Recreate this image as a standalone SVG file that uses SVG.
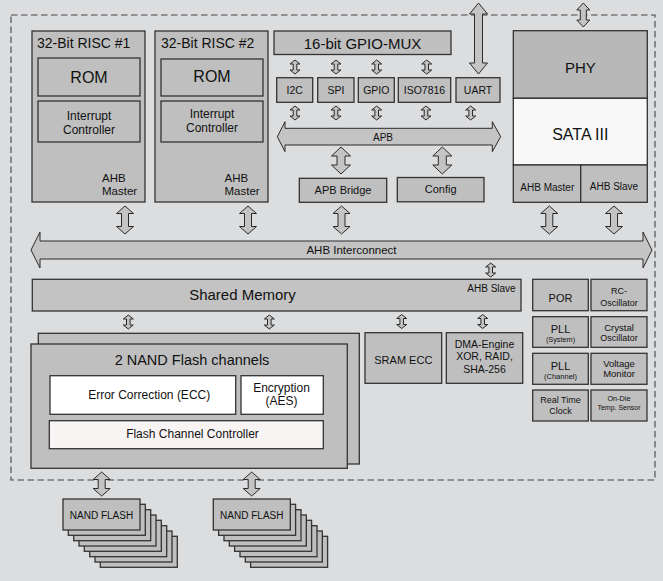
<svg xmlns="http://www.w3.org/2000/svg" width="663" height="581" viewBox="0 0 663 581">
<style>
text{font-family:"Liberation Sans",Arial,sans-serif;fill:#111}
.bx{fill:#bfbfbf;stroke:#333;stroke-width:1.3}
.wb{fill:#ffffff;stroke:#333;stroke-width:1.3}
.pk{fill:#f8f4f4;stroke:#333;stroke-width:1.3}
.arr{fill:#c4c4c4;stroke:#2a2a2a;stroke-width:1}
.c{text-anchor:middle}
.e{text-anchor:end}
</style>
<rect width="663" height="581" fill="#dcdddf"/>
<rect x="11" y="15" width="644" height="465" fill="none" stroke="#444" stroke-width="1.1" stroke-dasharray="6.5 3.5"/>

<g id="risc1">
<rect class="bx" x="32" y="31" width="113" height="171"/>
<text x="37" y="48" font-size="14">32-Bit RISC #1</text>
<rect class="bx" x="38" y="58" width="102" height="38"/>
<text class="c" x="89" y="83" font-size="16">ROM</text>
<rect class="bx" x="38" y="101" width="102" height="41"/>
<text class="c" x="89" y="120" font-size="12">Interrupt</text>
<text class="c" x="89" y="133.5" font-size="12">Controller</text>
<text x="102" y="181.5" font-size="11.5">AHB</text>
<text x="102" y="195" font-size="11.5">Master</text>
</g>

<g id="risc2">
<rect class="bx" x="155" y="31" width="113" height="171"/>
<text x="161" y="48" font-size="14">32-Bit RISC #2</text>
<rect class="bx" x="161" y="59" width="102" height="37"/>
<text class="c" x="212" y="82" font-size="16">ROM</text>
<rect class="bx" x="161" y="101" width="102" height="41"/>
<text class="c" x="212" y="118" font-size="12">Interrupt</text>
<text class="c" x="212" y="131.5" font-size="12">Controller</text>
<text x="224.5" y="181.5" font-size="11.5">AHB</text>
<text x="224.5" y="195" font-size="11.5">Master</text>
</g>

<g id="gpiomux">
<rect class="bx" x="274" y="31" width="177" height="23.5"/>
<text class="c" x="362.5" y="49" font-size="15">16-bit GPIO-MUX</text>
</g>
<g id="i2c"><rect class="bx" x="276.7" y="77.7" width="36" height="24.6"/><text class="c" x="294.7" y="93.5" font-size="10.5">I2C</text></g>
<g id="spi"><rect class="bx" x="317.7" y="77.7" width="36.3" height="24.6"/><text class="c" x="336" y="93.5" font-size="10.5">SPI</text></g>
<g id="gpio"><rect class="bx" x="358.3" y="77.7" width="36" height="24.6"/><text class="c" x="376.3" y="94" font-size="10.5">GPIO</text></g>
<g id="iso7816"><rect class="bx" x="398.3" y="77.7" width="52.4" height="24.6"/><text class="c" x="424.5" y="93.5" font-size="10.5">ISO7816</text></g>
<g id="uart"><rect class="bx" x="456" y="77.7" width="44" height="24.6"/><text class="c" x="478" y="93.5" font-size="10.5">UART</text></g>
<g id="apbbridge"><rect class="bx" x="299.3" y="178.3" width="87.4" height="24"/><text class="c" x="343" y="193.8" font-size="11">APB Bridge</text></g>
<g id="config"><rect class="bx" x="397.3" y="177.5" width="86.7" height="24.3"/><text class="c" x="440.7" y="193.3" font-size="11">Config</text></g>

<g id="sata">
<rect x="513.3" y="30.7" width="134" height="67.6" fill="#b8b8b8" stroke="#333" stroke-width="1.3"/>
<text class="c" x="580.3" y="73.3" font-size="15">PHY</text>
<rect x="513.3" y="98.3" width="134" height="66.7" fill="#f8f8f8" stroke="#333" stroke-width="1.3"/>
<text class="c" x="580.3" y="140" font-size="16">SATA III</text>
<rect class="bx" x="513.3" y="165" width="67.4" height="37.3"/>
<rect class="bx" x="580.7" y="165" width="66.6" height="37.3"/>
<text class="c" x="547.3" y="190.7" font-size="10">AHB Master</text>
<text class="c" x="614" y="190.2" font-size="10">AHB Slave</text>
</g>

<g id="sharedmem">
<rect class="bx" x="32.3" y="279.3" width="488.7" height="31.7" style="fill:#c3c3c3"/>
<text class="c" x="242.5" y="299.5" font-size="15">Shared Memory</text>
<text class="e" x="515.7" y="292.3" font-size="10">AHB Slave</text>
</g>

<g id="nandchannels">
<rect class="bx" x="38.3" y="333.3" width="321" height="130.7"/>
<rect class="bx" x="31" y="344" width="316.3" height="124.3"/>
<text class="c" x="192" y="365" font-size="14.5">2 NAND Flash channels</text>
<rect class="wb" x="50" y="375.7" width="185.7" height="38.6"/>
<text class="c" x="149.2" y="399" font-size="12">Error Correction (ECC)</text>
<rect class="wb" x="241" y="375.7" width="82.3" height="38.6"/>
<text class="c" x="281.5" y="391.7" font-size="12">Encryption</text>
<text class="c" x="281.5" y="405" font-size="12">(AES)</text>
<rect class="pk" x="49.3" y="420.7" width="274" height="28"/>
<text class="c" x="192.5" y="438.3" font-size="12">Flash Channel Controller</text>
</g>

<g id="sramecc"><rect class="bx" x="365" y="332.7" width="76.7" height="50.6"/><text class="c" x="403.3" y="364" font-size="11">SRAM ECC</text></g>
<g id="dma"><rect class="bx" x="446.3" y="332.7" width="76.4" height="50.6"/>
<text class="c" x="484.5" y="347.7" font-size="10.5">DMA-Engine</text>
<text class="c" x="484.5" y="360" font-size="10.5">XOR, RAID,</text>
<text class="c" x="484.5" y="372.7" font-size="10.5">SHA-256</text></g>

<g id="por"><rect class="bx" x="532.7" y="279.3" width="55.6" height="31.4"/><text class="c" x="560.5" y="301.7" font-size="11">POR</text></g>
<g id="rcosc"><rect class="bx" x="591" y="279.3" width="56" height="31.4"/><text class="c" x="619" y="294" font-size="9">RC-</text><text class="c" x="619" y="305.7" font-size="9">Oscillator</text></g>
<g id="pllsys"><rect class="bx" x="532.7" y="316.7" width="55.6" height="30.6"/><text class="c" x="560.5" y="333.3" font-size="11">PLL</text><text class="c" x="560.5" y="342" font-size="7.3">(System)</text></g>
<g id="crystal"><rect class="bx" x="591" y="316.7" width="56" height="30.6"/><text class="c" x="619" y="330.7" font-size="9.5">Crystal</text><text class="c" x="619" y="340.7" font-size="9">Oscillator</text></g>
<g id="pllch"><rect class="bx" x="532.7" y="353.3" width="55.6" height="31"/><text class="c" x="560.5" y="370" font-size="11">PLL</text><text class="c" x="560.5" y="379" font-size="7.5">(Channel)</text></g>
<g id="voltage"><rect class="bx" x="591" y="353.3" width="56" height="31"/><text class="c" x="619" y="366.7" font-size="9.5">Voltage</text><text class="c" x="619" y="377.3" font-size="9.5">Monitor</text></g>
<g id="rtc"><rect class="bx" x="532.7" y="390" width="55.6" height="31"/><text class="c" x="560.5" y="403.3" font-size="9">Real Time</text><text class="c" x="560.5" y="414" font-size="9">Clock</text></g>
<g id="tempsensor"><rect class="bx" x="591" y="390" width="56" height="31"/><text class="c" x="619" y="400.7" font-size="7.3">On-Die</text><text class="c" x="619" y="410" font-size="7">Temp. Sensor</text></g>

<g id="nandflash1">
<rect class="bx" x="100.3" y="536.3" width="77" height="31"/>
<rect class="bx" x="95" y="531" width="77" height="31"/>
<rect class="bx" x="89.7" y="525.7" width="77" height="31"/>
<rect class="bx" x="84.3" y="520.3" width="77" height="31"/>
<rect class="bx" x="79" y="515" width="77" height="31"/>
<rect class="bx" x="73.7" y="509.7" width="77" height="31"/>
<rect class="bx" x="68.3" y="504.3" width="77" height="31"/>
<rect class="bx" x="63" y="499" width="77" height="31"/>
<text class="c" x="101.5" y="518.5" font-size="10">NAND FLASH</text>
</g>
<g id="nandflash2">
<rect class="bx" x="250.6" y="536.3" width="77" height="31"/>
<rect class="bx" x="245.3" y="531" width="77" height="31"/>
<rect class="bx" x="240" y="525.7" width="77" height="31"/>
<rect class="bx" x="234.6" y="520.3" width="77" height="31"/>
<rect class="bx" x="229.3" y="515" width="77" height="31"/>
<rect class="bx" x="224" y="509.7" width="77" height="31"/>
<rect class="bx" x="218.6" y="504.3" width="77" height="31"/>
<rect class="bx" x="213.3" y="499" width="77" height="31"/>
<text class="c" x="251.8" y="518.5" font-size="10">NAND FLASH</text>
</g>

<g id="connectors">
<g id="ahb">
<path class="arr" d="M31,250 L40,232 L40,241 L643,241 L643,232 L652,250 L643,268 L643,259 L40,259 L40,268 Z"/>
<text class="c" x="351.5" y="253.5" font-size="11.5">AHB Interconnect</text>
</g>
<g id="apb">
<path class="arr" d="M277.3,136.7 L285,121.7 L285,128.3 L492.3,128.3 L492.3,121.7 L500.7,136.7 L492.3,151.7 L492.3,145 L285,145 L285,151.7 Z"/>
<text class="c" x="383" y="140.5" font-size="10">APB</text>
</g>
<path class="arr" d="M125,206 l8.5,7.5 h-5 v13 h5 l-8.5,7.5 l-8.5,-7.5 h5 v-13 h-5 z"/>
<path class="arr" d="M248,206 l8.5,7.5 h-5 v13 h5 l-8.5,7.5 l-8.5,-7.5 h5 v-13 h-5 z"/>
<path class="arr" d="M341.5,206 l8.5,7.5 h-5 v13 h5 l-8.5,7.5 l-8.5,-7.5 h5 v-13 h-5 z"/>
<path class="arr" d="M549.3,206 l8.5,7.5 h-5 v13 h5 l-8.5,7.5 l-8.5,-7.5 h5 v-13 h-5 z"/>
<path class="arr" d="M614,206 l8.5,7.5 h-5 v13 h5 l-8.5,7.5 l-8.5,-7.5 h5 v-13 h-5 z"/>
<path class="arr" d="M341,147 l9.5,9 h-5.5 v9 h5.5 l-9.5,9 l-9.5,-9 h5.5 v-9 h-5.5 z"/>
<path class="arr" d="M442.3,147 l9.5,9 h-5.5 v9 h5.5 l-9.5,9 l-9.5,-9 h5.5 v-9 h-5.5 z"/>
<path class="arr" d="M101.7,472 l8.5,7.5 h-5 v9 h5 l-8.5,7.5 l-8.5,-7.5 h5 v-9 h-5 z"/>
<path class="arr" d="M251.7,472 l8.5,7.5 h-5 v9 h5 l-8.5,7.5 l-8.5,-7.5 h5 v-9 h-5 z"/>
<path class="arr" d="M478.5,3 l9,11 h-5 v49 h5 l-9,11 l-9,-11 h5 v-49 h-5 z"/>
<path class="arr" d="M583.3,3 l6.5,7 h-3.5 v10 h3.5 l-6.5,7 l-6.5,-7 h3.5 v-10 h-3.5 z"/>
<path class="arr" d="M295,60 l5,4 h-3.2 v6 h3.2 l-5,4 l-5,-4 h3.2 v-6 h-3.2 z"/>
<path class="arr" d="M336,60 l5,4 h-3.2 v6 h3.2 l-5,4 l-5,-4 h3.2 v-6 h-3.2 z"/>
<path class="arr" d="M376.7,60 l5,4 h-3.2 v6 h3.2 l-5,4 l-5,-4 h3.2 v-6 h-3.2 z"/>
<path class="arr" d="M426.7,60 l5,4 h-3.2 v6 h3.2 l-5,4 l-5,-4 h3.2 v-6 h-3.2 z"/>
<path class="arr" d="M295,106 l5,4 h-3.2 v6 h3.2 l-5,4 l-5,-4 h3.2 v-6 h-3.2 z"/>
<path class="arr" d="M336,106 l5,4 h-3.2 v6 h3.2 l-5,4 l-5,-4 h3.2 v-6 h-3.2 z"/>
<path class="arr" d="M376.7,106 l5,4 h-3.2 v6 h3.2 l-5,4 l-5,-4 h3.2 v-6 h-3.2 z"/>
<path class="arr" d="M426,106 l5,4 h-3.2 v6 h3.2 l-5,4 l-5,-4 h3.2 v-6 h-3.2 z"/>
<path class="arr" d="M470.7,106 l5,4 h-3.2 v6 h3.2 l-5,4 l-5,-4 h3.2 v-6 h-3.2 z"/>
<path class="arr" d="M490.7,263 l5,4 h-3.2 v6 h3.2 l-5,4 l-5,-4 h3.2 v-6 h-3.2 z"/>
<path class="arr" d="M128.3,315 l5,4 h-3.2 v6 h3.2 l-5,4 l-5,-4 h3.2 v-6 h-3.2 z"/>
<path class="arr" d="M269.3,315 l5,4 h-3.2 v6 h3.2 l-5,4 l-5,-4 h3.2 v-6 h-3.2 z"/>
<path class="arr" d="M401.7,314.5 l5,4 h-3.2 v6 h3.2 l-5,4 l-5,-4 h3.2 v-6 h-3.2 z"/>
<path class="arr" d="M482.7,314.5 l5,4 h-3.2 v6 h3.2 l-5,4 l-5,-4 h3.2 v-6 h-3.2 z"/>
</g>
</svg>
